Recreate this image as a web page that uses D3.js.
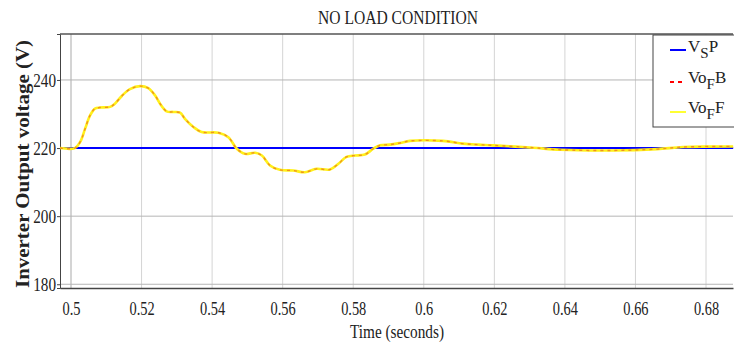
<!DOCTYPE html>
<html>
<head>
<meta charset="utf-8">
<script src="https://cdn.jsdelivr.net/npm/d3@7"></script>
<style>
  body { margin: 0; background: #fff; }
  text { font-family: "Liberation Serif", "Times New Roman", serif; fill: #222; }
</style>
</head>
<body>
<div id="chart"></div>
<script>
// time (s) of the sampled points on the filtered output
const timeSec = [0.4969, 0.5011, 0.5026, 0.5040, 0.5054, 0.5068, 0.5082, 0.5111, 0.5125, 0.5144,
  0.5167, 0.5196, 0.5219, 0.5238, 0.5252, 0.5271, 0.5290, 0.5309, 0.5323, 0.5347,
  0.5370, 0.5418, 0.5446, 0.5470, 0.5493, 0.5522, 0.5541, 0.5564, 0.5592, 0.5630,
  0.5663, 0.5696, 0.5734, 0.5758, 0.5781, 0.5805, 0.5833, 0.5857, 0.5876, 0.5904,
  0.5933, 0.5961, 0.6054, 0.6111, 0.6154, 0.6196, 0.6310, 0.6387, 0.6536, 0.6661,
  0.6735, 0.6877];
// VoF B (red dashed) and VoF F (yellow) lie on top of each other
const voFB = [220, 220, 221.8, 225.7, 229.6, 231.6, 231.9, 232.1, 233.1, 235.3,
  237.3, 238.2, 237.6, 235.5, 233.1, 230.8, 230.6, 230.4, 228.6, 226.2,
  224.7, 224.5, 223.2, 219.8, 218.3, 218.6, 217.8, 214.9, 213.6, 213.4,
  212.9, 213.9, 213.7, 215.4, 217.4, 217.8, 218.1, 219.8, 220.8, 221.0,
  221.5, 222.1, 222.1, 221.3, 221.0, 220.8, 220.1, 219.5, 219.3, 219.7,
  220.3, 220.5];
const voFF = voFB.slice();
// reference sine peak setpoint
const vsP = [220, 220];
const vsPTime = [0.4969, 0.6877];

const xTicks = [0.5, 0.52, 0.54, 0.56, 0.58, 0.6, 0.62, 0.64, 0.66, 0.68];
const yTicks = [180, 200, 220, 240];

const W = 734, H = 349;
const margin = { top: 34, right: 1, bottom: 61, left: 60 };
const width = W - margin.left - margin.right;
const height = H - margin.top - margin.bottom;

const svg = d3.select('#chart').append('svg')
  .attr('width', W)
  .attr('height', H);

const g = svg.append('g')
  .attr('transform', `translate(${margin.left},${margin.top})`);

const x = d3.scaleLinear().domain([0.49688, 0.68765]).range([0, width]);
const y = d3.scaleLinear().domain([178.9, 253.5]).range([height, 0]);

// grid
g.selectAll('.vgrid').data(xTicks).enter().append('line')
  .attr('x1', d => x(d)).attr('x2', d => x(d))
  .attr('y1', 0).attr('y2', height)
  .attr('stroke', '#d4d4d4')
  .attr('stroke-width', (d, i) => i === 0 ? 2 : 1);

g.selectAll('.hgrid').data(yTicks).enter().append('line')
  .attr('x1', 0).attr('x2', width)
  .attr('y1', d => y(d)).attr('y2', d => y(d))
  .attr('stroke', '#b5b5b5');

// axes
const xAxis = g.append('g')
  .attr('transform', `translate(0,${height})`)
  .call(d3.axisBottom(x).tickValues(xTicks).tickSize(0).tickPadding(14)
    .tickFormat(d => d3.format('')(+d.toFixed(2))));
xAxis.select('.domain').attr('stroke', '#444').attr('stroke-width', 1.5);
xAxis.selectAll('text')
  .attr('font-size', 18)
  .attr('font-family', '"Liberation Serif", serif')
  .attr('fill', '#222')
  .attr('transform', 'scale(0.8,1)');

const yAxis = g.append('g')
  .call(d3.axisLeft(y).tickValues(yTicks).tickSize(3).tickPadding(2));
yAxis.select('.domain').attr('stroke', '#444');
yAxis.selectAll('.tick line').attr('stroke', '#444');
yAxis.selectAll('text')
  .attr('font-size', 19)
  .attr('font-family', '"Liberation Serif", serif')
  .attr('fill', '#222')
  .attr('transform', 'scale(0.8,1)');

// top border
g.append('line')
  .attr('x1', 0).attr('x2', width)
  .attr('y1', 0).attr('y2', 0)
  .attr('stroke', '#555').attr('stroke-width', 1.5);

// series
const line = d3.line()
  .x(d => x(d[0]))
  .y(d => y(d[1]))
  .curve(d3.curveCatmullRom.alpha(0.5));

g.append('path')
  .datum(vsPTime.map((t, i) => [t, vsP[i]]))
  .attr('d', line)
  .attr('fill', 'none')
  .attr('stroke', '#0000ff')
  .attr('stroke-width', 2);

g.append('path')
  .datum(timeSec.map((t, i) => [t, voFF[i]]))
  .attr('d', line)
  .attr('fill', 'none')
  .attr('stroke', '#fff01a')
  .attr('stroke-width', 2.6);

g.append('path')
  .datum(timeSec.map((t, i) => [t, voFB[i]]))
  .attr('d', line)
  .attr('fill', 'none')
  .attr('stroke', '#f0921e')
  .attr('stroke-width', 1.4)
  .attr('stroke-dasharray', '3,4');

// legend
const leg = svg.append('g').attr('transform', 'translate(653,35)');
leg.append('rect')
  .attr('width', 90).attr('height', 92)
  .attr('fill', '#fff')
  .attr('stroke', '#444');

const legendItems = [
  { main: 'V', sub: 'S', tail: 'P', color: '#0000ff', dash: null, ly: 15, ty: 17 },
  { main: 'Vo', sub: 'F', tail: 'B', color: '#ff0000', dash: '4,4', ly: 47, ty: 48 },
  { main: 'Vo', sub: 'F', tail: 'F', color: '#ffff33', dash: null, ly: 77, ty: 78 }
];
legendItems.forEach(it => {
  leg.append('line')
    .attr('x1', 17).attr('x2', 33)
    .attr('y1', it.ly).attr('y2', it.ly)
    .attr('stroke', it.color)
    .attr('stroke-width', 2)
    .attr('stroke-dasharray', it.dash);
  const t = leg.append('text')
    .attr('x', 35).attr('y', it.ty)
    .attr('font-size', 17);
  t.append('tspan').text(it.main);
  t.append('tspan').attr('dy', 6).attr('font-size', 15).text(it.sub);
  t.append('tspan').attr('dy', -6).text(it.tail);
});

// title and axis labels
svg.append('text')
  .attr('x', 398).attr('y', 24)
  .attr('text-anchor', 'middle')
  .attr('font-size', 18)
  .attr('textLength', 160)
  .attr('lengthAdjust', 'spacingAndGlyphs')
  .text('NO LOAD CONDITION');

svg.append('text')
  .attr('x', 397).attr('y', 338)
  .attr('text-anchor', 'middle')
  .attr('font-size', 19)
  .attr('textLength', 94)
  .attr('lengthAdjust', 'spacingAndGlyphs')
  .text('Time (seconds)');

svg.append('text')
  .attr('transform', 'translate(29,164) rotate(-90)')
  .attr('text-anchor', 'middle')
  .attr('font-size', 18)
  .attr('font-weight', 'bold')
  .attr('textLength', 248)
  .attr('lengthAdjust', 'spacingAndGlyphs')
  .text('Inverter Output voltage (V)');
</script>
</body>
</html>
